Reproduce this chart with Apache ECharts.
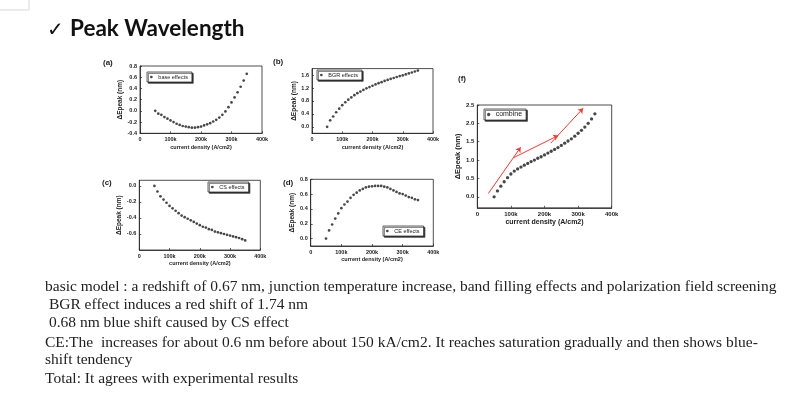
<!DOCTYPE html>
<html>
<head>
<meta charset="utf-8">
<script src="https://cdn.jsdelivr.net/npm/echarts@6/dist/echarts.min.js"></script>
<style>html,body{margin:0;padding:0;background:#fff}#c{width:800px;height:399px}</style>
</head>
<body>
<div id="c"></div>
<script>
// current density in kA/cm2
const currentDensity = [50,60,70,80,90,100,110,120,130,140,150,160,170,180,190,200,210,220,230,240,250,260,270,280,290,300,310,320,330,340,350];
const baseEffects = [0.00,-0.05,-0.07,-0.11,-0.14,-0.17,-0.20,-0.23,-0.25,-0.27,-0.28,-0.29,-0.30,-0.30,-0.29,-0.28,-0.26,-0.24,-0.22,-0.19,-0.16,-0.12,-0.07,-0.01,0.065,0.15,0.24,0.33,0.43,0.54,0.66];
const bgrEffects = [0.00,0.20,0.32,0.45,0.56,0.67,0.76,0.84,0.91,0.98,1.04,1.09,1.14,1.19,1.23,1.27,1.31,1.35,1.38,1.42,1.45,1.48,1.51,1.54,1.57,1.59,1.62,1.65,1.68,1.71,1.74];
const csEffects = [0.00,-0.07,-0.13,-0.17,-0.21,-0.25,-0.28,-0.31,-0.34,-0.37,-0.39,-0.41,-0.43,-0.45,-0.47,-0.49,-0.51,-0.52,-0.54,-0.55,-0.57,-0.58,-0.59,-0.60,-0.61,-0.62,-0.63,-0.64,-0.65,-0.665,-0.68];
const ceEffects = [0.00,0.11,0.19,0.27,0.34,0.41,0.46,0.50,0.55,0.59,0.62,0.65,0.67,0.69,0.70,0.705,0.71,0.71,0.71,0.70,0.69,0.67,0.65,0.63,0.61,0.60,0.58,0.56,0.55,0.53,0.52];
const combine = [0.00,0.16,0.29,0.41,0.52,0.62,0.70,0.76,0.81,0.86,0.91,0.96,1.00,1.05,1.09,1.14,1.19,1.24,1.29,1.34,1.40,1.46,1.52,1.58,1.65,1.73,1.81,1.90,2.00,2.12,2.26];
// red annotation arrows in panel (f): [start, end] in data units
const arrowsF = [[[33,0.09],[129,1.35]],[[107,1.06],[241,1.67]],[[219,1.465],[315,2.41]]];
const xTicks = [0,100,200,300,400];
const yTicksA = [-0.4,-0.2,0.0,0.2,0.4,0.6,0.8];
const yTicksB = [0.0,0.4,0.8,1.2,1.6];
const yTicksC = [-0.6,-0.4,-0.2,0.0];
const yTicksD = [0.0,0.2,0.4,0.6,0.8];
const yTicksF = [0.0,0.5,1.0,1.5,2.0,2.5];
const panelLabels = ['(a)','(b)','(c)','(d)','(f)'];
const seriesNames = ['base effects','BGR effects','CS effects','CE effects','combine'];
const xName = 'current density (A/cm2)';
const yName = 'ΔEpeak (nm)';
const title = 'Peak Wavelength';
const bodyLines = [
  'basic model : a redshift of 0.67 nm, junction temperature increase, band filling effects and polarization field screening',
  ' BGR effect induces a red shift of 1.74 nm',
  ' 0.68 nm blue shift caused by CS effect',
  'CE:The  increases for about 0.6 nm before about 150 kA/cm2. It reaches saturation gradually and then shows blue-',
  'shift tendency',
  'Total: It agrees with experimental results'
];

const FF = '"Liberation Sans", Arial, sans-serif';
const panels = [
  {grid:{left:140,top:66,width:122,height:67.3}, ymin:-0.4, ymax:0.8, yt:yTicksA, data:baseEffects, legend:{left:147,top:72}, fs:5.5, nfs:5.5, yfs:6.5, yGap:13, xGap:11, sym:2.7, lab:[103,63]},
  {grid:{left:312,top:68.6,width:121,height:64.7}, ymin:-0.2, ymax:1.8, yt:yTicksB, data:bgrEffects, legend:{left:317,top:70}, fs:5.5, nfs:5.5, yfs:6.5, yGap:11, xGap:11, sym:2.7, lab:[273,62]},
  {grid:{left:139.3,top:180.3,width:121,height:69.7}, ymin:-0.8, ymax:0.07, yt:yTicksC, data:csEffects, legend:{left:208,top:182}, fs:5.5, nfs:5.5, yfs:6.5, yGap:13, xGap:6, sym:2.7, lab:[102,183]},
  {grid:{left:310.7,top:179.3,width:122.6,height:66.7}, ymin:-0.1, ymax:0.8, yt:yTicksD, data:ceEffects, legend:{left:383,top:226}, fs:5.5, nfs:5.5, yfs:6.5, yGap:11, xGap:9, sym:2.7, lab:[283,183]},
  {grid:{left:477.3,top:105,width:134.4,height:102.8}, ymin:-0.3, ymax:2.5, yt:yTicksF, data:combine, legend:{left:484,top:109}, fs:6, nfs:7, yfs:7.5, yGap:12, xGap:11, sym:3.3, lab:[458,79]}
];

const grid = [], xAxis = [], yAxis = [], series = [], legend = [], graphic = [];
panels.forEach((p, i) => {
  grid.push(Object.assign({show:true, borderColor:'#222', borderWidth:0.8, backgroundColor:'transparent'}, p.grid));
  xAxis.push({
    type:'value', gridIndex:i, min:0, max:400, interval:100,
    name:xName, nameLocation:'middle', nameGap:p.xGap,
    nameTextStyle:{fontFamily:FF, fontWeight:'bold', fontSize:p.nfs, color:'#222'},
    axisLine:{onZero:false, lineStyle:{color:'#222', width:0.8}},
    axisTick:{inside:true, length:2, lineStyle:{color:'#222', width:0.7}},
    axisLabel:{fontFamily:FF, fontWeight:'bold', fontSize:p.fs, color:'#222', margin:3.5,
      customValues:xTicks, formatter:v => v === 0 ? '0' : v + 'k'},
    splitLine:{show:false}
  });
  yAxis.push({
    type:'value', gridIndex:i, min:p.ymin, max:p.ymax,
    name:yName, nameLocation:'middle', nameGap:p.yGap, nameRotate:90,
    nameTextStyle:{fontFamily:FF, fontWeight:'bold', fontSize:p.yfs, color:'#222'},
    axisLine:{show:true, onZero:false, lineStyle:{color:'#222', width:0.8}},
    axisTick:{show:true, inside:true, length:2, customValues:p.yt, lineStyle:{color:'#222', width:0.7}},
    axisLabel:{fontFamily:FF, fontWeight:'bold', fontSize:p.fs, color:'#222', margin:3,
      customValues:p.yt, formatter:v => v.toFixed(1)},
    splitLine:{show:false}
  });
  series.push({
    type:'scatter', name:seriesNames[i], xAxisIndex:i, yAxisIndex:i,
    symbol:'circle', symbolSize:p.sym, itemStyle:{color:'#1a1a1a'},
    data:currentDensity.map((x, k) => [x, p.data[k]])
  });
  legend.push({
    data:[seriesNames[i]], left:p.legend.left, top:p.legend.top,
    orient:'horizontal', icon:'circle', itemWidth:8, itemHeight:p.sym, itemGap:2,
    padding:[2,4,2,3], backgroundColor:'#fff', borderColor:'#222', borderWidth:0.7,
    shadowColor:'#333', shadowOffsetX:1.3, shadowOffsetY:1.3, shadowBlur:0,
    textStyle:{fontFamily:FF, fontSize:p.nfs, color:'#222', padding:[0,0,0,-2]},
    selectedMode:false
  });
  graphic.push({type:'text', left:p.lab[0], top:p.lab[1] - 4.5,
    style:{text:panelLabels[i], font:'bold 8px ' + FF, fill:'#222'}});
});

series.push({
  type:'lines', coordinateSystem:'cartesian2d', xAxisIndex:4, yAxisIndex:4,
  clip:false, symbol:['none','arrow'], symbolSize:5, silent:true,
  lineStyle:{color:'#f03a32', width:1, opacity:1, curveness:0},
  data:arrowsF.map(a => ({coords:a}))
});

graphic.push({type:'rect', shape:{x:-1, y:-1, width:30, height:11}, style:{fill:'none', stroke:'#d8d8d8', lineWidth:1}});
graphic.push({type:'text', left:47, top:21, style:{text:'✓', font:'20px "DejaVu Sans", sans-serif', fill:'#111'}});
graphic.push({type:'text', left:70, top:17, style:{text:title, font:'bold 22.5px Lato, "Open Sans", sans-serif', fill:'#111'}});
const lineY = [286.7, 305, 323.3, 342.7, 360, 379.3];
bodyLines.forEach((t, i) => {
  graphic.push({type:'text', x:45, y:lineY[i], style:{text:t, font:'15.5px "Liberation Serif", "Times New Roman", serif', fill:'#222', textVerticalAlign:'middle', textAlign:'left'}});
});

const chart = echarts.init(document.getElementById('c'), null, {renderer:'canvas'});
chart.setOption({animation:false, backgroundColor:'#fff', grid, xAxis, yAxis, series, legend, graphic});
</script>
</body>
</html>
